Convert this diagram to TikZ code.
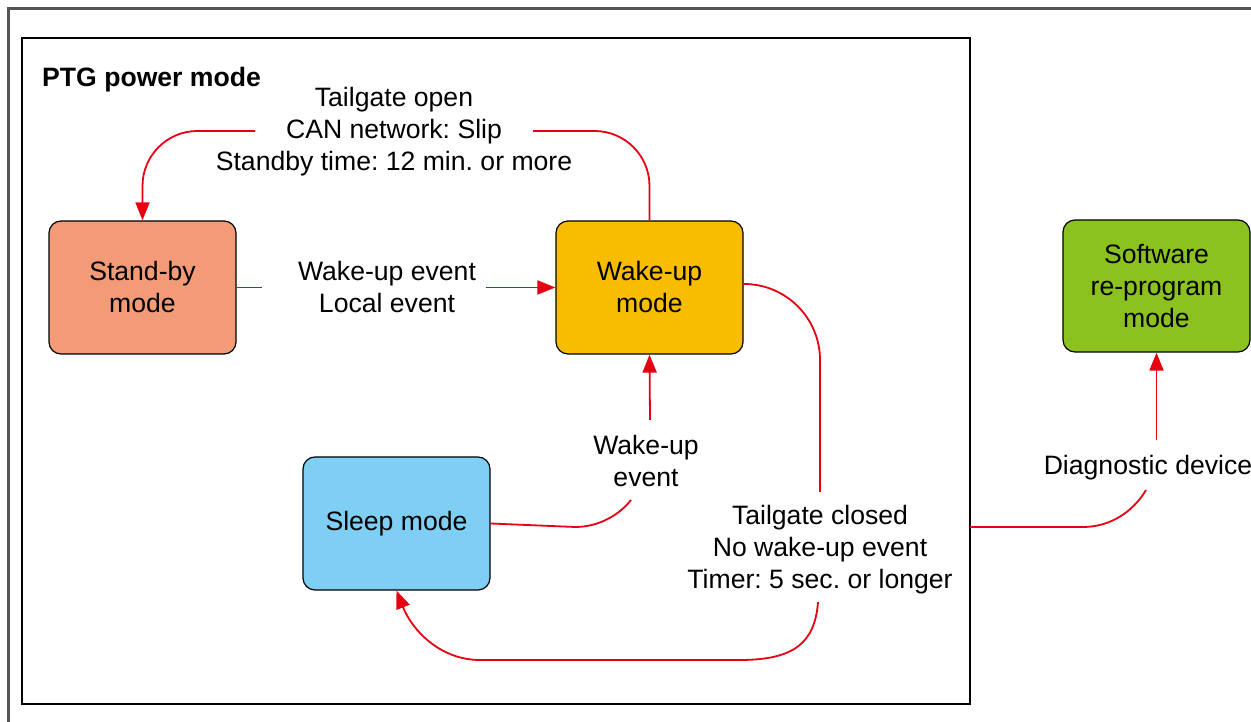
\documentclass[tikz,border=0pt]{standalone}
\usepackage{fontspec}
\setmainfont{Liberation Sans}
\usetikzlibrary{arrows.meta}
\frenchspacing
\definecolor{cred}{HTML}{E60012}
\definecolor{csalmon}{HTML}{F29B76}
\definecolor{camber}{HTML}{F8BC00}
\definecolor{csky}{HTML}{7FCEF4}
\definecolor{cgreen}{HTML}{8CC21F}
\definecolor{cframe}{HTML}{555555}
\tikzset{
  modebox/.style={draw=black, line width=1.2pt, rounded corners=12pt, minimum width=187pt, minimum height=133pt, align=center, inner sep=0pt},
  lbl/.style={align=center, inner sep=0pt},
  conn/.style={draw=cred, line width=1.8pt},
  arr/.style={conn, -{Triangle[width=14pt,length=18pt]}},
}
\begin{document}
\begin{tikzpicture}[x=1pt,y=1pt,font=\fontsize{26.6}{32}\selectfont]
\useasboundingbox (0,0) rectangle (1251,722);
% outer and inner frames
\draw[cframe, line width=3pt] (8,-10) -- (8,713) -- (1270,713);
\draw[black, line width=2pt] (22,18) rectangle (970,684);
\node[anchor=base west, inner sep=0pt, font=\fontsize{26.6}{32}\selectfont\bfseries] (title) at (42,635) {PTG power mode};
% mode boxes
\node[modebox, fill=csalmon] (standby) at (142.5,434.5) {Stand-by\\mode};
\node[modebox, fill=camber] (wake) at (649.5,434.5) {Wake-up\\mode};
\node[modebox, fill=csky] (sleep) at (396.5,198.5) {Sleep mode};
\node[modebox, fill=cgreen, minimum height=132pt] (soft) at (1156.5,436) {\raisebox{-2pt}{\parbox{180pt}{\centering Software\\re-program\\mode}}};
% labels
\node[lbl] (l1) at (394,590.5) {Tailgate open\\CAN network: Slip\\Standby time: 12 min. or more};
\node[lbl] (l2) at (387,434.5) {Wake-up event\\Local event};
\node[lbl] (l3) at (646,261) {Wake-up\\event};
\node[lbl] (l4) at (820,172) {Tailgate closed\\No wake-up event\\Timer: 5 sec. or longer};
\node[lbl] (l5) at (1148,254) {Diagnostic device};
% free ends
\coordinate (c1a) at (533,591);
\coordinate (c1b) at (255,591);
\coordinate (c2a) at (262,434.5);
\coordinate (c2b) at (486,434.5);
\coordinate (c3a) at (631,222);
\coordinate (c3b) at (650,302);
\coordinate (c4a) at (820,230);
\coordinate (c4b) at (818,120);
\coordinate (c5a) at (970,195);
\coordinate (c5b) at (1146,232);
\coordinate (c5c) at (1156.5,282);
% connectors
\draw[conn, rounded corners=55pt] (wake.north) |- (c1a);
\draw[arr, rounded corners=55pt] (c1b) -| (standby.north);
\draw[conn] (standby.east) -- (c2a);
\draw[arr] (c2b) -- (wake.west);
\draw[conn] (sleep.east) -- (575,195) .. controls (600,195) and (620,208) .. (c3a);
\draw[arr] (c3b) -- (wake.south);
\draw[conn, rounded corners=76pt] (wake.east |- 0,438) -| (c4a);
\draw[arr] (c4b) .. controls (815,80) and (795,62) .. (740,62) -- (480,62) .. controls (440,62) and (412,92) .. (sleep.south);
\draw[conn] (c5a) -- (1083,195) .. controls (1110,195) and (1133,210) .. (c5b);
\draw[arr] (c5c) -- (soft.south);
\end{tikzpicture}
\end{document}
